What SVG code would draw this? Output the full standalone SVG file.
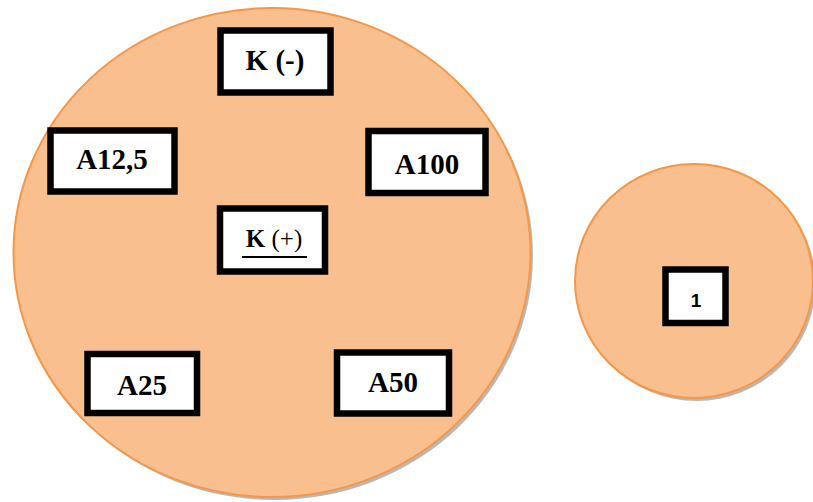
<svg xmlns="http://www.w3.org/2000/svg" width="813" height="502" viewBox="0 0 813 502">
<style>
.dish{fill:#F9BF8F;stroke:#F79646;stroke-width:2}
.shadow{fill:#9a9a9a;opacity:0.7}
.box{fill:#ffffff;stroke:#000000;stroke-width:6.5}
.lbl{font-family:"Liberation Serif","Times New Roman",serif;font-weight:bold;font-size:29px;fill:#000;text-anchor:middle}
</style>
<rect width="813" height="502" fill="#ffffff"/>
<g id="dish-large">
<ellipse class="shadow" cx="274.5" cy="255.5" rx="258.5" ry="244.5"/>
<ellipse class="dish" cx="272" cy="252.5" rx="258.5" ry="244.5"/>
</g>
<g id="dish-small">
<ellipse class="shadow" cx="696.5" cy="284" rx="119" ry="117"/>
<ellipse class="dish" cx="694" cy="281" rx="119" ry="117"/>
</g>
<g id="connectors"></g>
<g id="k-minus">
<rect class="box" x="220.5" y="30.5" width="110" height="62"/>
<text class="lbl" x="275" y="70">K (-)</text>
</g>
<g id="a12-5">
<rect class="box" x="50.5" y="130.5" width="124" height="61"/>
<text class="lbl" x="112" y="169">A12,5</text>
</g>
<g id="a100">
<rect class="box" x="368.5" y="131" width="117" height="62"/>
<text class="lbl" x="427" y="174">A100</text>
</g>
<g id="k-plus">
<rect class="box" x="220" y="208.5" width="105" height="63"/>
<text x="274" y="247" font-family="Liberation Serif, Times New Roman, serif" font-size="25" text-anchor="middle" fill="#000"><tspan font-weight="bold">K</tspan> (+)</text>
<line x1="242" y1="257" x2="307" y2="257" stroke="#000" stroke-width="2"/>
</g>
<g id="a25">
<rect class="box" x="87.5" y="354" width="109.5" height="59"/>
<text class="lbl" x="142" y="395">A25</text>
</g>
<g id="a50">
<rect class="box" x="337" y="352.5" width="112" height="61"/>
<text class="lbl" x="393" y="392">A50</text>
</g>
<g id="box-1">
<rect class="box" x="665.5" y="269.5" width="60" height="53.5"/>
<text x="696" y="307" font-family="Liberation Sans, Arial, sans-serif" font-weight="bold" font-size="19" text-anchor="middle" fill="#000">1</text>
</g>
</svg>
